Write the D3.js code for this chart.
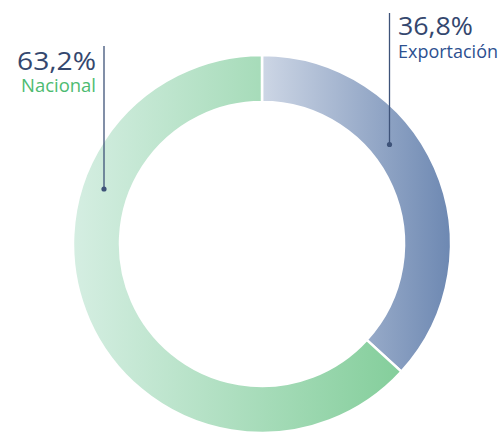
<!DOCTYPE html>
<html><head><meta charset="utf-8">
<script src="https://cdn.jsdelivr.net/npm/d3@7"></script>
<style>html,body{margin:0;padding:0;background:#fff;}svg{display:block;}</style>
</head><body>
<script>
const categories = ["Exportación", "Nacional"];
const values = [36.8, 63.2];
const valueLabels = ["36,8%", "63,2%"];
const gradientStops = [["#cdd6e5", "#6d88b2"], ["#d5eee2", "#84ce9b"]];
const labelColors = ["#2d5090", "#4dbb70"];

const W = 503, H = 435;
const cx = 262, cy = 244, R = 189, r = 142;
const svg = d3.select("body").append("svg").attr("width", W).attr("height", H);
const defs = svg.append("defs");
gradientStops.forEach((s, i) => {
  const g = defs.append("linearGradient").attr("id", "g" + i)
    .attr("x1", "0%").attr("x2", "100%").attr("y1", "0%").attr("y2", "0%");
  g.append("stop").attr("offset", "0%").attr("stop-color", s[0]);
  g.append("stop").attr("offset", "100%").attr("stop-color", s[1]);
});
const pie = d3.pie().sort(null).value(d => d);
const arcs = pie(values);
const arc = d3.arc().innerRadius(r).outerRadius(R);
const g = svg.append("g").attr("transform", `translate(${cx},${cy})`);
g.selectAll("path").data(arcs).join("path")
  .attr("d", arc)
  .attr("fill", (d, i) => `url(#g${i})`)
  .attr("stroke", "#fff").attr("stroke-width", 2.5);

// leaders
const lineColor = "#3e5379";
const leaders = [
  {x: 389.5, y0: 13, y1: 144.5},
  {x: 104, y0: 46, y1: 189}
];
leaders.forEach(l => {
  svg.append("line").attr("x1", l.x).attr("x2", l.x).attr("y1", l.y0).attr("y2", l.y1)
    .attr("stroke", lineColor).attr("stroke-width", 1.3);
  svg.append("circle").attr("cx", l.x).attr("cy", l.y1).attr("r", 2.6).attr("fill", lineColor);
});

const font = "'Open Sans', Lato, sans-serif";
function label(x, y, size, color, txt, len, anchor) {
  svg.append("text").attr("x", x).attr("y", y).attr("text-anchor", anchor)
    .attr("font-family", font).attr("font-size", size).attr("fill", color)
    .attr("textLength", len).attr("lengthAdjust", "spacingAndGlyphs").text(txt);
}
// Exportación label
label(398, 35, 25, "#34476e", valueLabels[0], 75, "start");
label(398, 58, 17.5, labelColors[0], categories[0], 100, "start");
// Nacional label
label(96, 70, 25, "#34476e", valueLabels[1], 79, "end");
label(96, 92, 17.5, labelColors[1], categories[1], 75, "end");
</script>
</body></html>
